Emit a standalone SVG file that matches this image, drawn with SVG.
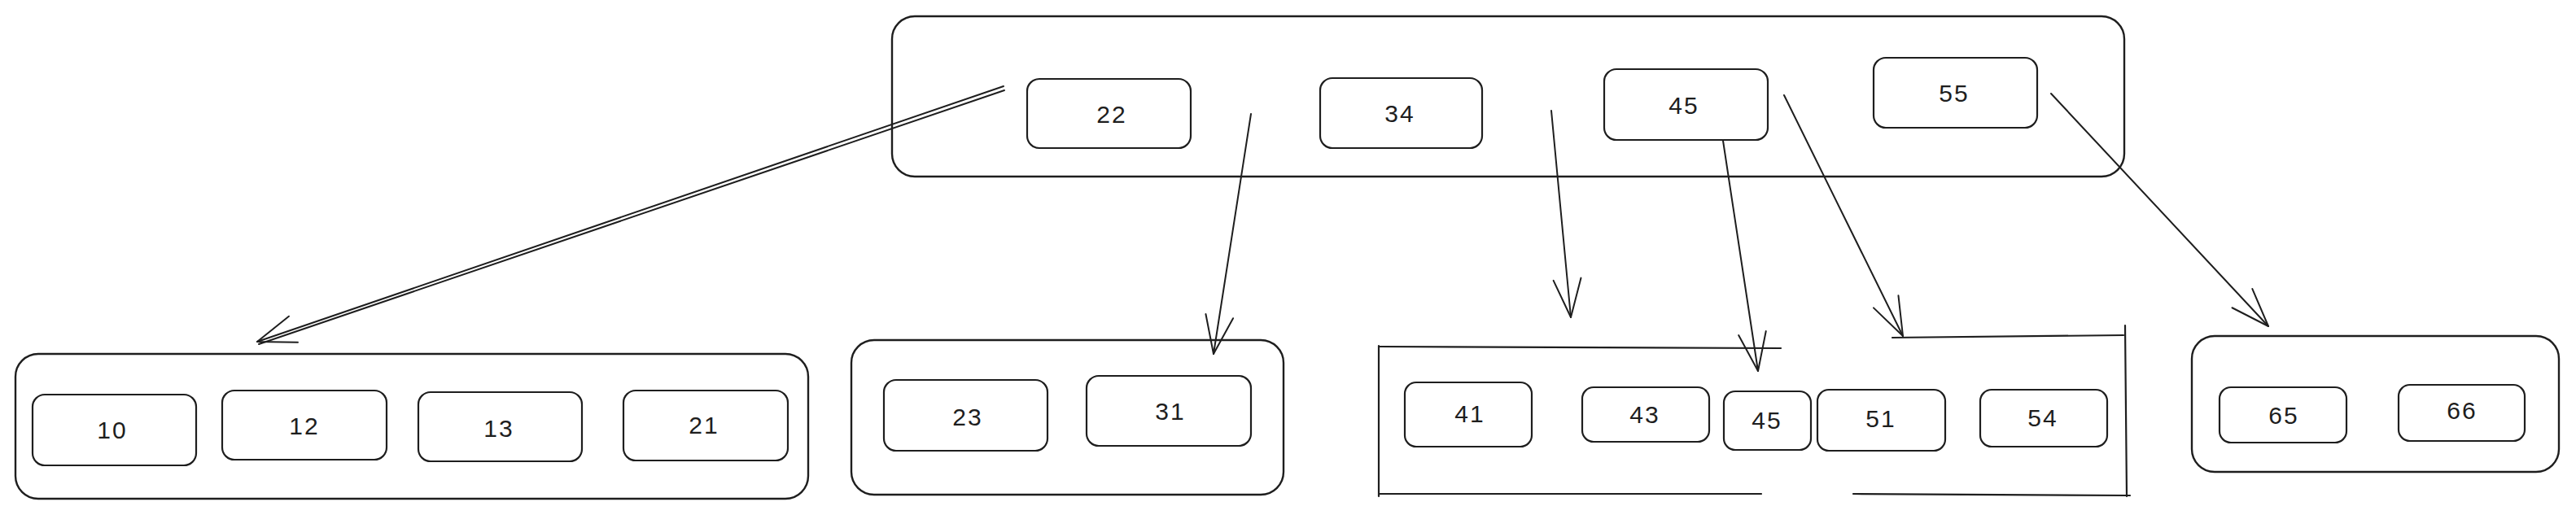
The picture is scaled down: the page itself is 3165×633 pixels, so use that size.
<svg xmlns="http://www.w3.org/2000/svg" width="3165" height="633" viewBox="0 0 3165 633">
<defs>
<style>
.c{fill:none;stroke:#1e1e1e;stroke-width:2.4;stroke-linejoin:round}
.b{fill:none;stroke:#1e1e1e;stroke-width:2.2;stroke-linejoin:round}
.ln{fill:none;stroke:#1e1e1e;stroke-width:2.2;stroke-linecap:round}
.a{fill:none;stroke:#1e1e1e;stroke-width:2;stroke-linecap:round}
.t{font-family:"Liberation Sans",Arial,sans-serif;font-size:30px;letter-spacing:2px;fill:#1e1e1e;text-anchor:middle;dominant-baseline:central}
</style>
<marker id="ah" viewBox="-55 -22 60 44" markerWidth="60" markerHeight="44" refX="0" refY="0" orient="auto" markerUnits="userSpaceOnUse" overflow="visible">
<path d="M-47,-17 L0,0 L-47,17" fill="none" stroke="#1e1e1e" stroke-width="2" stroke-linecap="round" stroke-linejoin="round"/>
</marker>
</defs>
<rect x="0" y="0" width="3165" height="633" fill="#ffffff"/>

<g id="root">
<rect class="c" x="1096" y="20" width="1514" height="197" rx="28"/>
</g>
<g id="root-22"><rect class="b" x="1262" y="97" width="201" height="85" rx="15"/><text class="t" x="1366" y="140">22</text></g>
<g id="root-34"><rect class="b" x="1622" y="96" width="199" height="86" rx="15"/><text class="t" x="1720" y="139">34</text></g>
<g id="root-45"><rect class="b" x="1971" y="85" width="201" height="87" rx="15"/><text class="t" x="2069" y="129">45</text></g>
<g id="root-55"><rect class="b" x="2302" y="71" width="201" height="86" rx="15"/><text class="t" x="2401" y="114">55</text></g>

<g id="leaf1">
<rect class="c" x="19" y="435" width="974" height="178" rx="28"/>
</g>
<g id="leaf1-10"><rect class="b" x="40" y="485" width="201" height="87" rx="15"/><text class="t" x="138" y="528">10</text></g>
<g id="leaf1-12"><rect class="b" x="273" y="480" width="202" height="85" rx="15"/><text class="t" x="374" y="523">12</text></g>
<g id="leaf1-13"><rect class="b" x="514" y="482" width="201" height="85" rx="15"/><text class="t" x="613" y="526">13</text></g>
<g id="leaf1-21"><rect class="b" x="766" y="480" width="202" height="86" rx="15"/><text class="t" x="865" y="522">21</text></g>

<g id="leaf2">
<rect class="c" x="1046" y="418" width="531" height="190" rx="28"/>
</g>
<g id="leaf2-23"><rect class="b" x="1086" y="467" width="201" height="87" rx="15"/><text class="t" x="1189" y="512">23</text></g>
<g id="leaf2-31"><rect class="b" x="1335" y="462" width="202" height="86" rx="15"/><text class="t" x="1438" y="505">31</text></g>

<g id="leaf3">
<path class="ln" d="M1694,425 L1694,610"/>
<path class="ln" d="M1695,426 L2188,428"/>
<path class="ln" d="M1695,607 L2164,607"/>
<path class="ln" d="M2277,607 L2617,609"/>
<path class="ln" d="M2325,415 L2609,412"/>
<path class="ln" d="M2611,400 L2613,610"/>
</g>
<g id="leaf3-41"><rect class="b" x="1726" y="470" width="156" height="79" rx="14"/><text class="t" x="1806" y="508">41</text></g>
<g id="leaf3-43"><rect class="b" x="1944" y="476" width="156" height="67" rx="14"/><text class="t" x="2021" y="509">43</text></g>
<g id="leaf3-45"><rect class="b" x="2118" y="481" width="107" height="72" rx="14"/><text class="t" x="2171" y="516">45</text></g>
<g id="leaf3-51"><rect class="b" x="2233" y="479" width="157" height="75" rx="14"/><text class="t" x="2311" y="514">51</text></g>
<g id="leaf3-54"><rect class="b" x="2433" y="479" width="156" height="70" rx="14"/><text class="t" x="2510" y="513">54</text></g>

<g id="leaf4">
<rect class="c" x="2693" y="413" width="451" height="167" rx="28"/>
</g>
<g id="leaf4-65"><rect class="b" x="2727" y="476" width="156" height="68" rx="14"/><text class="t" x="2806" y="510">65</text></g>
<g id="leaf4-66"><rect class="b" x="2947" y="473" width="155" height="69" rx="14"/><text class="t" x="3025" y="504">66</text></g>

<g id="connectors">
<line class="a" x1="1233" y1="106" x2="316" y2="420" marker-end="url(#ah)"/>
<line class="a" x1="1234" y1="111" x2="318" y2="423"/>
<line class="a" x1="1537" y1="140" x2="1491" y2="435" marker-end="url(#ah)"/>
<line class="a" x1="1906" y1="136" x2="1930" y2="390" marker-end="url(#ah)"/>
<line class="a" x1="2117" y1="173" x2="2160" y2="456" marker-end="url(#ah)"/>
<line class="a" x1="2192" y1="117" x2="2338" y2="413" marker-end="url(#ah)"/>
<line class="a" x1="2520" y1="115" x2="2787" y2="401" marker-end="url(#ah)"/>
</g>
</svg>
